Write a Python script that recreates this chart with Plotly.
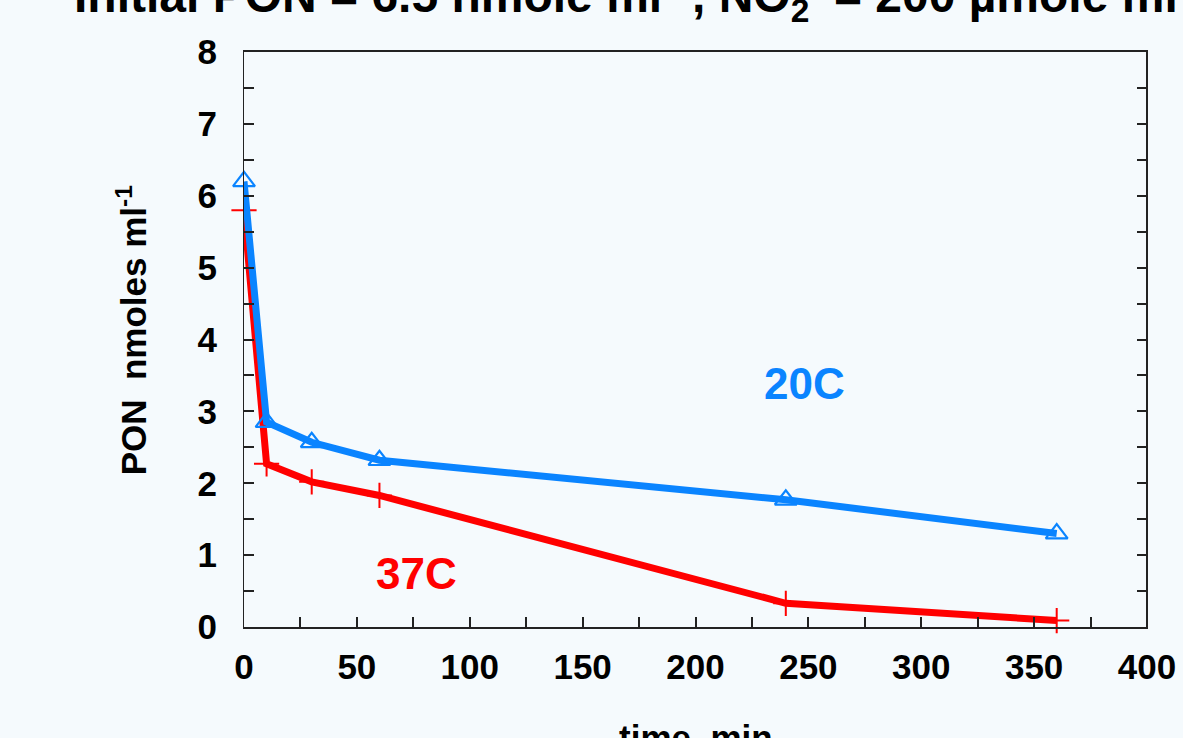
import plotly.graph_objects as go

time_20c = [0, 10, 30, 60, 240, 360]
pon_20c = [6.2, 2.85, 2.57, 2.32, 1.77, 1.30]
time_37c = [0, 10, 30, 60, 240, 360]
pon_37c = [5.80, 2.27, 2.02, 1.83, 0.33, 0.09]

title_text = "Initial PON = 6.5 nmole ml<sup>-1</sup>, NO<sub>2</sub><sup>-</sup> = 200 µmole ml<sup>-1</sup>"
x_title = "time, min"
y_title = "PON  nmoles ml<sup>-1</sup>"
x_ticks = [0, 50, 100, 150, 200, 250, 300, 350, 400]
y_ticks = [0, 1, 2, 3, 4, 5, 6, 7, 8]

BLUE = "#0A84FF"
RED = "#FF0000"
FONT = "Liberation Sans, Arial, sans-serif"

fig = go.Figure()
fig.add_trace(go.Scatter(
    x=time_37c, y=pon_37c, mode="lines+markers", name="37C",
    line=dict(color=RED, width=7),
    marker=dict(symbol="cross-thin-open", size=18, color=RED, line=dict(color=RED, width=2)),
    cliponaxis=False,
))
fig.add_trace(go.Scatter(
    x=time_20c, y=pon_20c, mode="lines+markers", name="20C",
    line=dict(color=BLUE, width=7),
    marker=dict(symbol="triangle-up-open", size=19, color=BLUE, line=dict(color=BLUE, width=2.2)),
    cliponaxis=False,
))

fig.add_annotation(x=248.5, y=3.39, xref="x", yref="y", text="20C", showarrow=False,
                   font=dict(family=FONT, size=44, color=BLUE, weight=700))
fig.add_annotation(x=76.2, y=0.75, xref="x", yref="y", text="37C", showarrow=False,
                   font=dict(family=FONT, size=44, color=RED, weight=700))

fig.add_annotation(x=-0.1905, y=1.0986, xref="paper", yref="paper", xanchor="left", yanchor="middle",
                   text=title_text, showarrow=False,
                   font=dict(family=FONT, size=48, color="black", weight=700))
fig.add_annotation(x=0.5, y=-0.154, xref="paper", yref="paper", xanchor="center", yanchor="top",
                   text=x_title, showarrow=False,
                   font=dict(family=FONT, size=35, color="black", weight=700))
fig.add_annotation(x=-0.124, y=0.516, xref="paper", yref="paper", xanchor="center", yanchor="middle",
                   text=y_title, showarrow=False, textangle=-90,
                   font=dict(family=FONT, size=35, color="black", weight=700))

fig.add_shape(type="line", xref="paper", yref="paper", x0=1, x1=1, y0=0, y1=1,
              line=dict(color="#222222", width=2))

fig.update_xaxes(
    range=[0, 400], tickvals=x_ticks, ticktext=[str(v) for v in x_ticks],
    showgrid=False, zeroline=False, showline=True, linecolor="#222222", linewidth=1.5,
    mirror=True, ticks="inside", ticklen=10, tickwidth=1.5, tickcolor="#222222",
    minor=dict(dtick=25, ticks="inside", ticklen=10, tickwidth=1.5, tickcolor="#222222", showgrid=False),
    tickfont=dict(family=FONT, size=35, color="black", weight=700),
    ticklabelstandoff=8, automargin=False,
)
fig.update_yaxes(
    range=[0, 8], tickvals=y_ticks, ticktext=[str(v) for v in y_ticks],
    showgrid=False, zeroline=False, showline=True, linecolor="#222222", linewidth=1.2,
    mirror="allticks", ticks="inside", ticklen=10, tickwidth=1.5, tickcolor="#222222",
    minor=dict(dtick=0.5, ticks="inside", ticklen=10, tickwidth=1.5, tickcolor="#222222", showgrid=False),
    tickfont=dict(family=FONT, size=35, color="black", weight=700),
    ticklabelstandoff=19, automargin=False,
)

fig.update_layout(
    width=1183, height=738,
    margin=dict(l=244, r=36, t=52, b=111, autoexpand=False),
    paper_bgcolor="#F5FAFD", plot_bgcolor="#F5FAFD",
    showlegend=False,
    font=dict(family=FONT, color="black"),
)

fig.write_html("out.html", config={"displayModeBar": False},
               post_script="document.body.style.margin='0px';document.body.style.overflow='hidden';")
